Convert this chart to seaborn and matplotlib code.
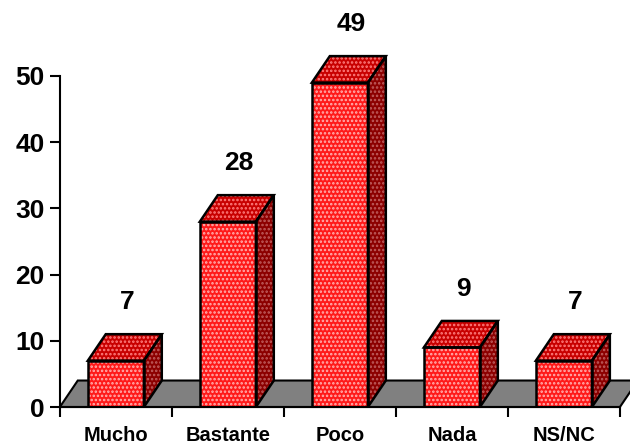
import matplotlib
matplotlib.use("Agg")
import matplotlib.pyplot as plt
import seaborn as sns
import pandas as pd
from matplotlib.patches import Polygon, Rectangle

# Data
categories = ["Mucho", "Bastante", "Poco", "Nada", "NS/NC"]
values = [7, 28, 49, 9, 7]
y_ticks = [0, 10, 20, 30, 40, 50]

sns.set_style("white")
plt.rcParams['font.family'] = ['Liberation Sans', 'DejaVu Sans']
plt.rcParams['hatch.linewidth'] = 1.2
plt.rcParams['text.color'] = 'black'
plt.rcParams['xtick.color'] = 'black'
plt.rcParams['ytick.color'] = 'black'
plt.rcParams['axes.edgecolor'] = 'black'

df = pd.DataFrame({"respuesta": categories, "valor": values})

fig = plt.figure(figsize=(6.3, 4.48), dpi=100)
ax = fig.add_axes([0.095, 0.0915, 0.889, 0.897])

sns.barplot(data=df, x="respuesta", y="valor", color="#ff1a1a", saturation=1,
            width=0.5, ax=ax, zorder=3)

# fake 3D depth (in data units)
dx, dy = 0.16, 4.0

for p in ax.patches:
    p.set_facecolor("#ff1a1a")
    p.set_edgecolor("#ffb3b3")
    p.set_hatch("....")
    p.set_linewidth(0)
    x0, w, h = p.get_x(), p.get_width(), p.get_height()
    x1 = x0 + w
    ax.add_patch(Rectangle((x0, 0), w, h, fill=False, ec="black", lw=1.8, zorder=4))
    side = [(x1, 0), (x1 + dx, dy), (x1 + dx, h + dy), (x1, h)]
    top = [(x0, h), (x0 + dx, h + dy), (x1 + dx, h + dy), (x1, h)]
    ax.add_patch(Polygon(side, fc="#8c0000", ec="#c06060", hatch="....", lw=0, zorder=3))
    ax.add_patch(Polygon(side, fill=False, ec="black", lw=1.8, zorder=4))
    ax.add_patch(Polygon(top, fc="#c80000", ec="#ff8080", hatch="....", lw=0, zorder=3))
    ax.add_patch(Polygon(top, fill=False, ec="black", lw=1.8, zorder=4))

# grey floor
floor = [(-0.5, 0), (4.5, 0), (4.5 + dx, dy), (-0.5 + dx, dy)]
ax.add_patch(Polygon(floor, fc="#808080", ec="black", lw=1.5, zorder=1, clip_on=False))

# value labels
for i, v in enumerate(values):
    ax.text(i + 0.1, v + dy + 3, str(v), ha="center", va="bottom",
            fontsize=19, fontweight="bold", color="black")

ax.set_xlim(-0.5, 4.5)
ax.set_ylim(0, 60.7)
ax.set_yticks(y_ticks)
ax.set_yticklabels([str(t) for t in y_ticks], fontsize=19, fontweight="bold")
ax.set_xticks([i - 0.5 for i in range(len(categories) + 1)])
ax.set_xticklabels([""] * (len(categories) + 1))
ax.set_xticks(range(len(categories)), minor=True)
ax.set_xticklabels(categories, minor=True, fontsize=14.5, fontweight="bold")
ax.tick_params(axis="x", which="major", direction="out", length=7, width=1.5, bottom=True)
ax.tick_params(axis="x", which="minor", length=0, pad=14)
ax.tick_params(axis="y", direction="out", length=7, width=1.5, left=True, pad=4)
ax.set_xlabel("")
ax.set_ylabel("")

sns.despine(ax=ax)
ax.spines["left"].set_bounds(0, 50)
ax.spines["left"].set_linewidth(1.5)
ax.spines["bottom"].set_linewidth(1.5)
ax.spines["left"].set_zorder(5)
ax.spines["bottom"].set_zorder(5)

plt.savefig("out.png", dpi=100)
